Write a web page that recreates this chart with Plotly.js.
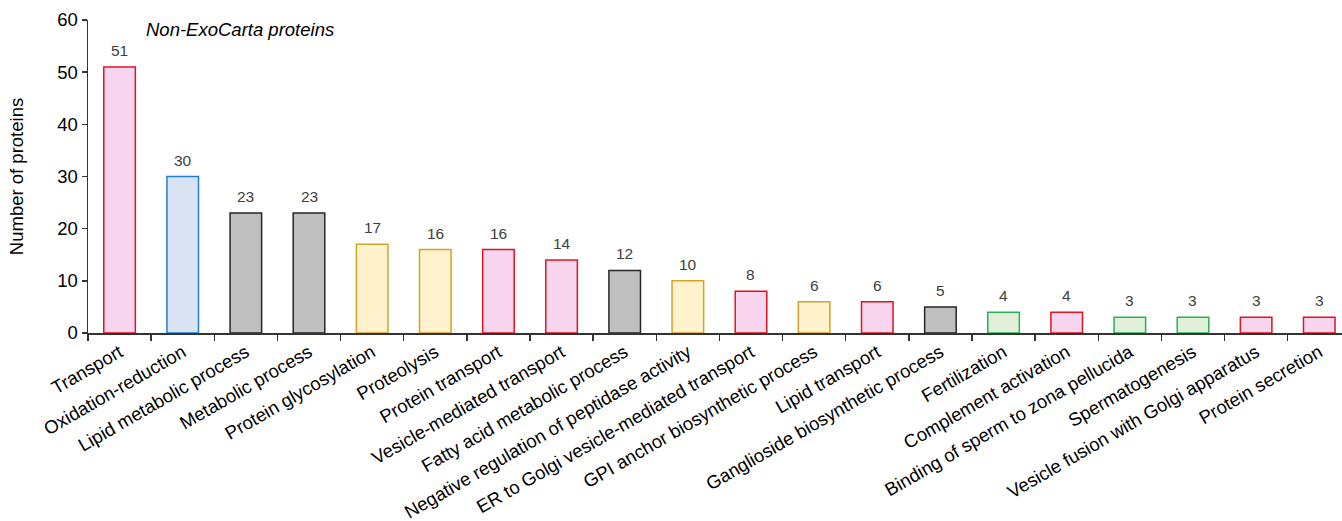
<!DOCTYPE html>
<html>
<head>
<meta charset="utf-8">
<script src="https://cdn.plot.ly/plotly-3.0.1.min.js"></script>
<style>html,body{margin:0;padding:0;background:#fff;}#chart{width:1342px;height:521px;}</style>
</head>
<body>
<div id="chart"></div>
<script>
const categories = ["Transport","Oxidation-reduction","Lipid metabolic process","Metabolic process","Protein glycosylation","Proteolysis","Protein transport","Vesicle-mediated transport","Fatty acid metabolic process","Negative regulation of peptidase activity","ER to Golgi vesicle-mediated transport","GPI anchor biosynthetic process","Lipid transport","Ganglioside biosynthetic process","Fertilization","Complement activation","Binding of sperm to zona pellucida","Spermatogenesis","Vesicle fusion with Golgi apparatus","Protein secretion"];
const counts = [51,30,23,23,17,16,16,14,12,10,8,6,6,5,4,4,3,3,3,3];
const groups = ["red","blue","gray","gray","gold","gold","red","red","gray","gold","red","gold","red","gray","green","red","green","green","red","red"];
const yTicks = [0,10,20,30,40,50,60];

const fills = {red:"#f7d5ee", blue:"#d9e3f4", gray:"#bfbfbf", gold:"#fff2cc", green:"#e2efd9"};
const edges = {red:"#e0141e", blue:"#1f7fd6", gray:"#262626", gold:"#d4a325", green:"#23b553"};

const trace = {
  type: "bar",
  x: categories,
  y: counts,
  width: 0.5,
  marker: {
    color: groups.map(g => fills[g]),
    line: {color: groups.map(g => edges[g]), width: 1.5}
  },
  hoverinfo: "x+y"
};

const valueLabels = categories.map((c, i) => ({
  x: c, y: counts[i], xref: "x", yref: "y",
  text: String(counts[i]),
  showarrow: false, xanchor: "center", yanchor: "bottom", yshift: 6,
  font: {size: 15.5, color: "#404040"}
}));

const layout = {
  width: 1342, height: 521,
  margin: {l: 88, r: 0, t: 20, b: 188},
  paper_bgcolor: "#fff", plot_bgcolor: "#fff",
  showlegend: false,
  font: {family: "Liberation Sans, Arial, sans-serif", size: 18.5, color: "#000"},
  xaxis: {
    type: "category",
    range: [-0.5, 19.36],
    tickangle: -30,
    ticks: "outside", ticklen: 6, tickcolor: "#333", tickwidth: 1.5,
    tickson: "boundaries",
    showline: true, linecolor: "#333", linewidth: 1.5,
    showgrid: false, zeroline: false,
    tickfont: {size: 18.5, color: "#000"}
  },
  yaxis: {
    range: [0, 60],
    tickvals: yTicks,
    ticktext: yTicks.map(String),
    ticks: "outside", ticklen: 5, tickcolor: "#333", tickwidth: 1.5,
    showline: true, linecolor: "#333", linewidth: 1.5,
    showgrid: false, zeroline: false,
    tickfont: {size: 18.5, color: "#000"},
    title: {text: "Number of proteins", font: {size: 18.5, color: "#000"}, standoff: 28}
  },
  annotations: valueLabels.concat([{
    text: "<i>Non-ExoCarta proteins</i>",
    xref: "paper", yref: "paper",
    x: 0.045, y: 0.971, xanchor: "left", yanchor: "middle",
    showarrow: false,
    font: {size: 18.5, color: "#000"}
  }])
};

Plotly.newPlot("chart", [trace], layout, {displayModeBar: false, staticPlot: true});
</script>
</body>
</html>
